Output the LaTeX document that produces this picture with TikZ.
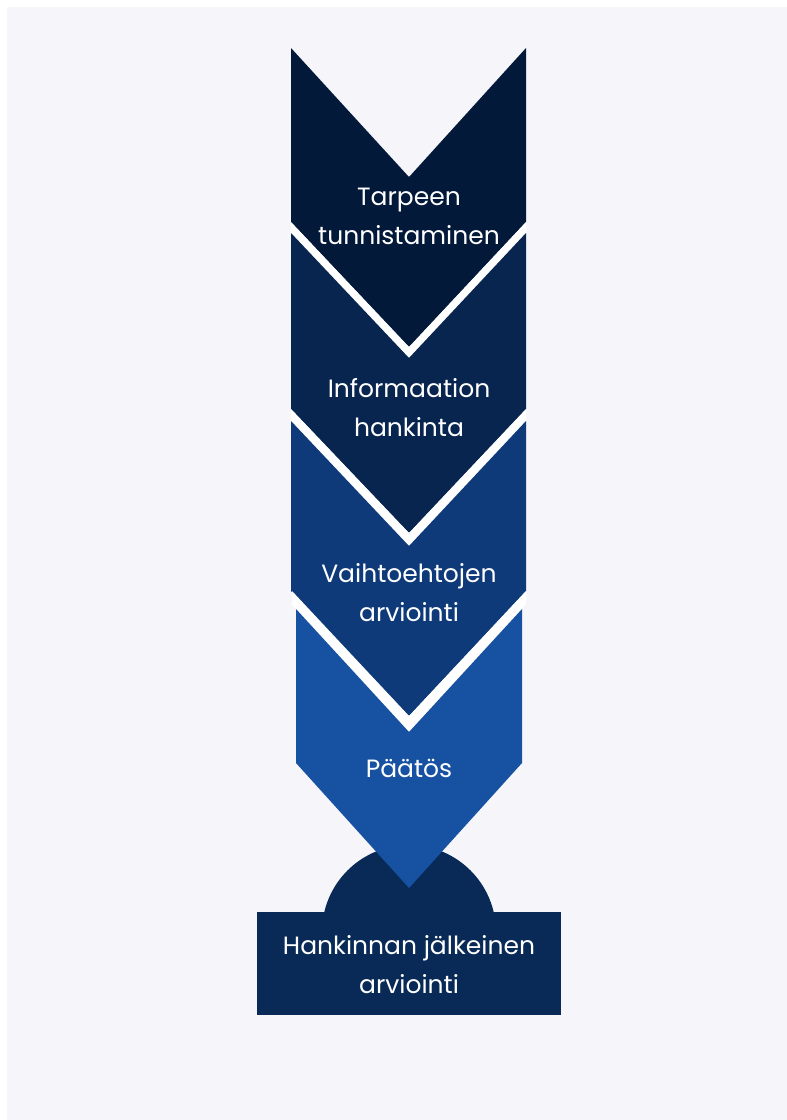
\documentclass[tikz,border=0pt]{standalone}
\usepackage{fontspec}
\setmainfont{Poppins}
\definecolor{bgc}{HTML}{F5F5FA}
\definecolor{cA}{HTML}{03193A}
\definecolor{cB}{HTML}{07254F}
\definecolor{cC}{HTML}{0E3A7A}
\definecolor{cD}{HTML}{1651A2}
\definecolor{cE}{HTML}{092A56}
\tikzset{
  lbl/.style={text=white, align=center, inner sep=0pt, font=\fontsize{25}{39}\selectfont},
  gapfill/.style={fill=white}
}
\begin{document}
\begin{tikzpicture}[x=1pt,y=-1pt]
\useasboundingbox (0,0) rectangle (787,1120);
\fill[white] (0,0) rectangle (787,1120);
\fill[bgc] (7,7) rectangle (787,1120);
% bottom base
\begin{scope}
\clip (250,780) rectangle (570,912);
\fill[cE] (409,932) circle[radius=87];
\end{scope}
\fill[cE] (257,912) rectangle (561,1015);
% chevrons
\fill[cA] (291,48) -- (409,177) -- (526,48) -- (526,222) -- (409,347) -- (291,222) -- cycle;
\fill[gapfill] (291,222) -- (409,347) -- (526,222) -- (526,233) -- (409,358) -- (291,233) -- cycle;
\fill[cB] (291,233) -- (409,358) -- (526,233) -- (526,409) -- (409,533) -- (291,409) -- cycle;
\fill[gapfill] (291,409) -- (409,533) -- (526,409) -- (526,421) -- (409,546) -- (291,421) -- cycle;
\fill[cC] (291,421) -- (409,546) -- (526,421) -- (526,591) -- (409,716) -- (291,591) -- cycle;
\fill[gapfill] (292,591) -- (409,716) -- (526,591) -- (526,604) -- (522,609) -- (409,732) -- (296,609) -- (292,605) -- cycle;
\fill[cD] (296,609) -- (409,732) -- (522,609) -- (522,763) -- (409,888) -- (296,763) -- cycle;
% labels
\node[lbl] (t1) at (409,216) {Tarpeen\\tunnistaminen};
\node[lbl] (t2) at (409,408) {Informaation\\hankinta};
\node[lbl] (t3) at (409,593) {Vaihtoehtojen\\arviointi};
\node[lbl] (t4) at (409,768) {Päätös};
\node[lbl] (t5) at (409,965) {Hankinnan jälkeinen\\arviointi};
\end{tikzpicture}
\end{document}
